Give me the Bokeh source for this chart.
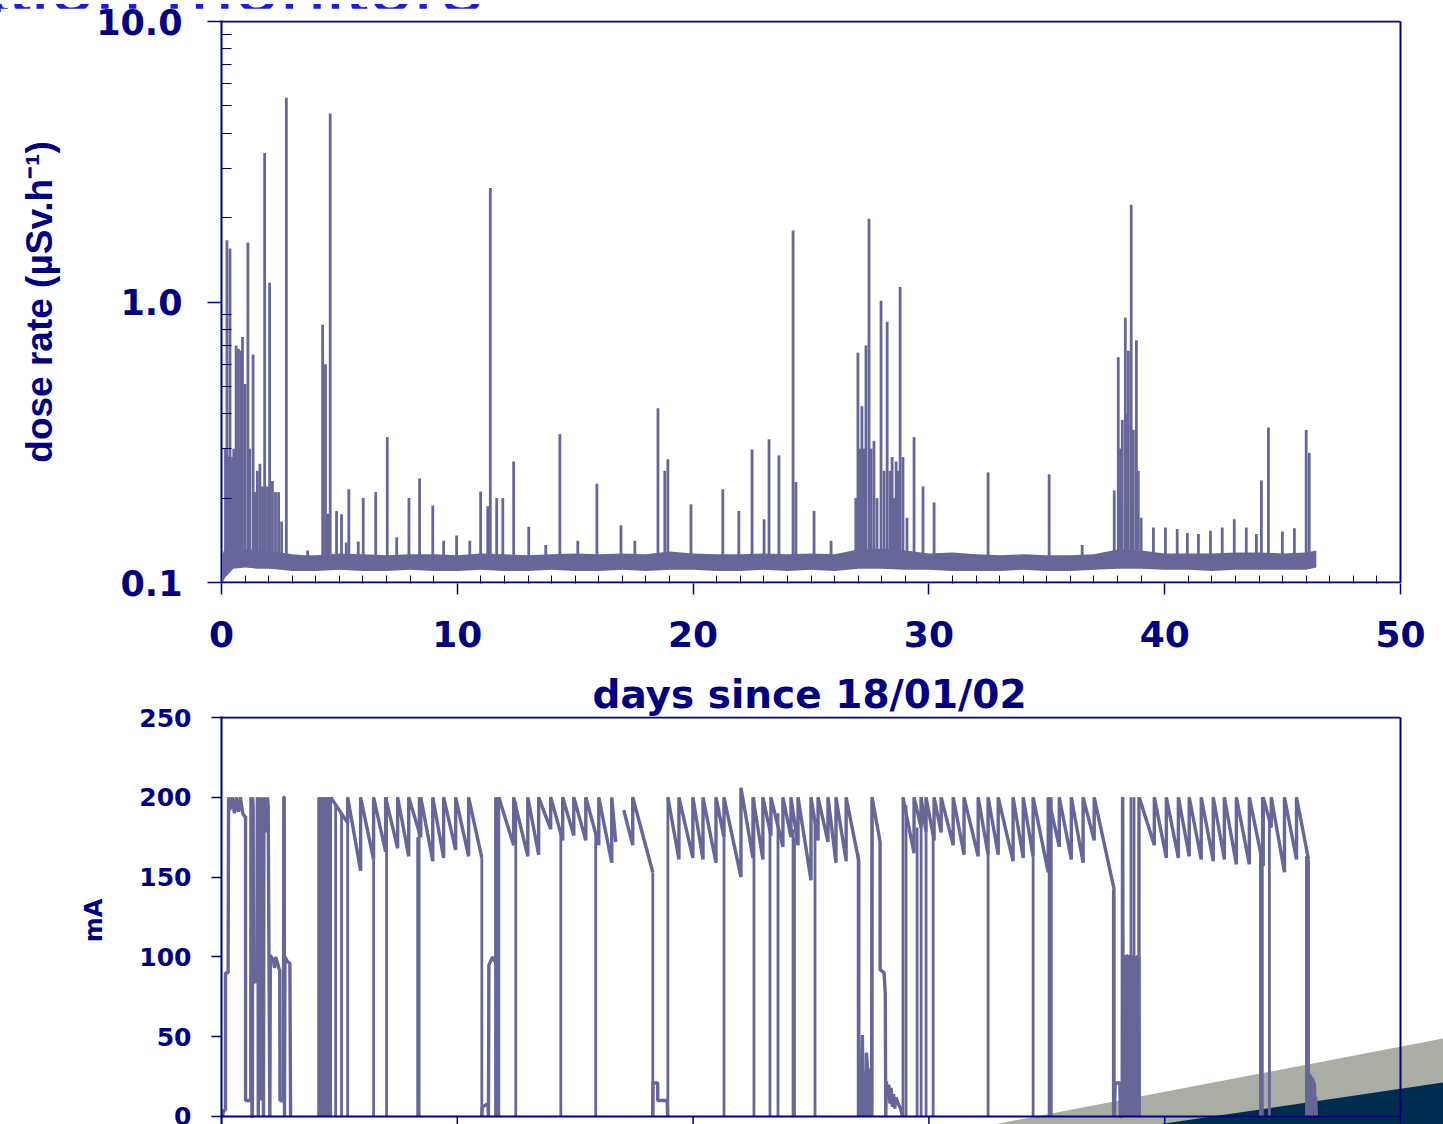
from bokeh.plotting import figure
from bokeh.layouts import column
from bokeh.models import (FixedTicker, PrintfTickFormatter, PolyAnnotation, Range1d, Div)
from bokeh.embed import file_html
from bokeh.resources import INLINE

NAVY = "#000080"
PURPLE = "#666699"

# ---------------- top chart: dose rate (uSv/h) ----------------
band_days = [0.05, 0.15, 0.5, 1, 1.5, 2, 2.5, 3, 3.5, 4, 5, 6, 7, 8, 9, 10, 11, 12, 13,
             14, 15, 16, 17, 18, 19, 20, 21, 22, 23, 24, 25, 26, 27, 28, 29, 30, 31, 32,
             33, 34, 35, 36, 37, 38, 39, 40, 41, 42, 43, 44, 45, 46, 46.43]
band_low = [0.100, 0.104, 0.112, 0.113, 0.112, 0.112, 0.111, 0.110, 0.110, 0.110, 0.111,
            0.110, 0.110, 0.111, 0.110, 0.110, 0.111, 0.110, 0.110, 0.111, 0.110, 0.110,
            0.111, 0.110, 0.111, 0.111, 0.110, 0.110, 0.111, 0.110, 0.111, 0.110, 0.112,
            0.112, 0.111, 0.111, 0.110, 0.110, 0.110, 0.111, 0.110, 0.110, 0.111, 0.112,
            0.112, 0.111, 0.111, 0.110, 0.111, 0.111, 0.111, 0.111, 0.113]
band_high = [0.127, 0.132, 0.132, 0.132, 0.130, 0.129, 0.128, 0.126, 0.125, 0.125, 0.127,
             0.126, 0.125, 0.126, 0.126, 0.125, 0.127, 0.126, 0.125, 0.126, 0.127, 0.126,
             0.127, 0.126, 0.129, 0.127, 0.126, 0.126, 0.127, 0.126, 0.127, 0.126, 0.131,
             0.132, 0.130, 0.127, 0.128, 0.126, 0.125, 0.126, 0.125, 0.125, 0.126, 0.131,
             0.130, 0.127, 0.127, 0.127, 0.128, 0.128, 0.127, 0.128, 0.130]

spike_days = [0.17, 0.23, 0.30, 0.36, 0.42, 0.47, 0.52, 0.62, 0.72, 0.78, 0.83, 0.89, 1.00,
              1.12, 1.20, 1.34, 1.44, 1.52, 1.63, 1.74, 1.83, 1.95, 2.04, 2.16, 2.29, 2.42,
              2.55, 2.75, 3.65, 4.29, 4.41, 4.50, 4.61, 4.88, 5.09, 5.29, 5.40, 5.80, 6.01,
              6.54, 7.03, 7.43, 7.95, 8.40, 8.96, 9.42, 9.97, 10.53, 10.99, 11.29, 11.40,
              11.67, 11.93, 12.39, 13.03, 13.75, 14.35, 15.11, 15.92, 16.94, 17.53, 18.51,
              18.80, 18.93, 19.91, 21.26, 21.94, 22.50, 23.01, 23.22, 23.64, 24.24, 24.36,
              25.13, 25.85, 26.90, 26.99, 27.08, 27.16, 27.25, 27.33, 27.46, 27.55, 27.67,
              27.80, 27.97, 28.10, 28.23, 28.35, 28.44, 28.52, 28.61, 28.69, 28.78, 28.90,
              29.07, 29.37, 29.75, 30.22, 32.51, 35.10, 36.50, 37.86, 38.03, 38.12, 38.20,
              38.33, 38.41, 38.46, 38.58, 38.67, 38.80, 38.88, 39.00, 39.52, 40.03, 40.53,
              40.96, 41.43, 41.94, 42.44, 42.95, 43.46, 43.89, 44.10, 44.40, 44.99, 45.50,
              46.00, 46.13]
spike_vals = [0.30, 1.66, 0.28, 1.55, 0.27, 0.28, 0.30, 0.70, 0.68, 0.30, 0.67, 0.75, 0.51,
              1.63, 0.30, 0.65, 0.21, 0.25, 0.265, 0.22, 3.40, 0.22, 1.17, 0.23, 0.21, 0.21,
              0.165, 5.35, 0.13, 0.83, 0.60, 0.176, 4.70, 0.18, 0.175, 0.139, 0.215, 0.14,
              0.20, 0.21, 0.33, 0.145, 0.20, 0.235, 0.188, 0.141, 0.147, 0.141, 0.211, 0.187,
              2.55, 0.20, 0.20, 0.27, 0.158, 0.136, 0.338, 0.141, 0.225, 0.16, 0.141, 0.418,
              0.25, 0.275, 0.19, 0.215, 0.18, 0.298, 0.168, 0.324, 0.284, 1.80, 0.228,
              0.18, 0.141, 0.20, 0.66, 0.30, 0.425, 0.30, 0.70, 1.98, 0.30, 0.32,
              0.20, 1.01, 0.25, 0.85, 0.25, 0.28, 0.20, 0.27, 0.25, 1.13, 0.28,
              0.17, 0.33, 0.22, 0.193, 0.247, 0.243, 0.136, 0.213, 0.636, 0.30, 0.38,
              0.88, 0.40, 0.67, 2.22, 0.35, 0.73, 0.25, 0.17, 0.157, 0.157, 0.155,
              0.150, 0.149, 0.153, 0.157, 0.168, 0.157, 0.149, 0.231, 0.357, 0.152, 0.156,
              0.35, 0.29]
SPIKE_BASE = 0.118

dose_ticks = [0.1, 1.0, 10.0]
dose_minor = [0.2, 0.3, 0.4, 0.5, 0.6, 0.7, 0.8, 0.9, 2, 3, 4, 5, 6, 7, 8, 9]
day_ticks = [0, 10, 20, 30, 40, 50]
day_minor = [d for d in range(1, 50) if d % 10]

# ---------------- bottom chart: beam current (mA) ----------------
# regular operation: refill days (tooth starts), run end, level at end of each tooth, fill level
run1_starts = [4.63, 5.35, 5.90, 6.45, 6.96, 7.47, 7.94, 8.45, 8.96, 9.42, 9.93, 10.48]
run1_end = 11.04
run1_lows = [184, 154, 161, 166, 168, 163, 175, 160, 162, 167, 163, 162]
run1_tops = [200] * 12

run2_starts = [11.76, 12.39, 12.99, 13.45, 13.96, 14.47, 14.94, 15.45, 16.00, 16.55]
run2_end = 16.72
run2_lows = [170, 163, 164, 180, 173, 176, 173, 170, 159, 172]
run2_tops = [200] * 10

run3_starts = [17.06, 17.44]
run3_end = 18.29
run3_lows = [170, 153]
run3_tops = [192, 200]

run4_starts = [18.93, 19.40, 19.99, 20.42, 20.97, 21.31, 22.03, 22.54, 22.96, 23.30, 23.81,
               24.15, 24.45, 25.00, 25.30, 25.72, 26.06, 26.49]
run4_end = 27.04
run4_lows = [161, 162, 161, 159, 175, 150, 162, 161, 176, 169, 175, 170, 148, 173, 172, 159,
             160, 159]
run4_tops = [200, 200, 200, 200, 200, 200, 206, 200, 200, 200, 200, 200, 200, 200, 200, 200,
             200, 200]

run5_starts = [28.90, 29.37, 29.67, 29.88, 30.22, 30.52, 31.03, 31.49, 32.09, 32.51, 32.94,
               33.57, 34.00, 34.42, 35.06, 35.53, 36.04, 36.54, 37.01]
run5_end = 37.86
run5_lows = [165, 181, 178, 173, 178, 170, 164, 163, 164, 164, 160, 162, 163, 153, 169, 161,
             159, 173, 142]
run5_tops = [200] * 19

run6_starts = [38.92, 39.56, 40.07, 40.58, 41.04, 41.55, 42.06, 42.53, 43.04, 43.59, 44.18,
               44.52, 45.08, 45.59]
run6_end = 46.10
run6_lows = [170, 162, 162, 163, 161, 160, 161, 158, 158, 157, 181, 153, 161, 161]
run6_tops = [200] * 14

# irregular periods (start-up, injections, low-current running)
early_days = [0.04, 0.10, 0.17, 0.17, 0.28, 0.30, 0.35, 0.45, 0.55, 0.62, 0.72, 0.80, 0.90,
              0.98, 1.02, 1.02, 1.24, 1.25, 1.28, 1.29, 1.31, 1.32, 1.34, 1.36, 1.45, 1.50,
              1.52, 1.55, 1.56, 1.58, 1.62, 1.64, 1.66, 1.70, 1.72, 1.76, 1.78, 1.80, 1.86,
              1.88, 1.93, 1.95, 1.98, 2.05, 2.07, 2.20, 2.25, 2.30, 2.40, 2.45, 2.47, 2.48,
              2.63, 2.64, 2.66, 2.67, 2.69, 2.80, 2.90, 2.93]
early_vals = [0, 4, 4, 90, 90, 200, 192, 200, 190, 200, 191, 200, 190,
              188, 188, 10, 10, 200, 198, 0, 0, 200, 195, 85, 84, 88,
              200, 198, 0, 200, 190, 10, 200, 180, 200, 185, 0, 200, 190,
              200, 178, 200, 195, 0, 101, 98, 93, 100, 95, 92, 92, 10,
              10, 200, 200, 0, 100, 97, 96, 0]

c11_days = [11.04, 11.06, 11.30, 11.32, 11.34, 11.50, 11.60, 11.70, 11.72]
c11_vals = [0, 6, 8, 0, 95, 100, 97, 99, 0]

c18_days = [18.29, 18.30, 18.50, 18.50, 18.90, 18.92]
c18_vals = [0, 21, 21, 10, 10, 0]

c27_days = [27.04, 27.05, 27.10, 27.12, 27.14, 27.18, 27.20, 27.22, 27.30, 27.32, 27.35,
            27.42, 27.45, 27.48, 27.55, 27.57, 27.59, 27.93, 27.93, 28.10, 28.15, 28.17,
            28.20, 28.25, 28.30, 28.35, 28.40, 28.45, 28.50, 28.55, 28.60, 28.70, 28.80,
            28.88]
c27_vals = [0, 25, 18, 0, 30, 51, 0, 28, 20, 0, 40,
            25, 0, 22, 30, 0, 200, 172, 92, 90, 77, 0,
            22, 12, 20, 8, 18, 6, 14, 5, 12, 8, 5,
            0]

c38_days = [37.86, 37.90, 38.10, 38.12, 38.20, 38.22, 38.24, 38.28, 38.35, 38.37, 38.45,
            38.47, 38.50, 38.60, 38.62, 38.64, 38.75, 38.77, 38.80, 38.90, 38.92]
c38_vals = [0, 21, 21, 0, 0, 200, 0, 100, 0, 101, 100,
            0, 100, 101, 0, 100, 99, 0, 100, 100, 0]

c46_days = [46.10, 46.12, 46.20, 46.22, 46.25, 46.35, 46.38, 46.40, 46.43]
c46_vals = [0, 26, 25, 0, 24, 20, 0, 12, 0]

# brief beam losses / refills from zero (vertical excursions between 0 and the level reached)
drop_days = [4.12, 4.17, 4.22, 4.27, 4.32, 4.37, 4.42, 4.47, 4.52, 4.57, 4.63, 4.84, 5.09,
             5.35, 6.45, 7.00, 8.32, 8.38, 11.04, 11.62, 11.70, 11.74, 11.76, 12.48, 14.39,
             15.87, 18.29, 18.93, 21.31, 22.58, 23.26, 23.60, 24.24, 24.30, 25.17, 27.00,
             27.04, 27.59, 28.90, 29.03, 29.50, 29.67, 29.88, 30.18, 32.51, 34.42, 35.10,
             35.19, 37.82, 37.86, 38.20, 38.57, 38.70, 38.90, 38.92, 44.06, 44.14, 44.44,
             46.01, 46.10]
drop_tops = [200, 200, 200, 200, 200, 200, 200, 200, 200, 200, 200, 196, 190,
             186, 161, 200, 175, 200, 162, 200, 200, 200, 200, 197, 180,
             178, 153, 200, 175, 200, 180, 190, 180, 175, 185, 165,
             159, 200, 200, 195, 181, 200, 178, 175, 164, 163, 190,
             200, 142, 142, 200, 200, 200, 200, 200, 165, 200, 190,
             163, 161]

mA_ticks = [0, 50, 100, 150, 200, 250]
DAY_MAX = 50
MA_MAX = 250
DOSE_MIN = 0.1
DOSE_MAX = 10.0


def style_axis(ax):
    ax.axis_line_color = NAVY
    ax.axis_line_width = 2
    ax.major_tick_line_color = NAVY
    ax.major_tick_line_width = 1.5
    ax.minor_tick_line_color = NAVY
    ax.major_label_text_color = NAVY
    ax.major_label_text_font = "DejaVu Sans"
    ax.major_label_text_font_style = "bold"


W = 1443
# plotting areas run on to the page's right edge (for the slide decoration); the charts'
# own boxes are drawn at 0..50 days
x_end = DAY_MAX * (W - 221) / (1400 - 221)

# ---------------- slide title (only its lower edge is on the page) ----------------
title_div = Div(width=W, height=8, margin=(0, 0, 0, 0), text=(
    '<div style="position:relative;width:1443px;height:8px;overflow:hidden;">'
    '<span style="position:absolute;left:-209px;bottom:-13px;'
    "font-family:'Liberation Sans',Arial,sans-serif;font-size:83px;line-height:83px;"
    'color:#1a1aeb;white-space:nowrap;">Radiation monitors</span></div>'))

# ---------------- top figure ----------------
dec = 10 ** (1 / 280.5)
top = figure(width=W, height=650, x_range=Range1d(0, x_end),
             y_range=Range1d(DOSE_MIN / dec, DOSE_MAX * dec),
             y_axis_type="log", output_backend="svg", toolbar_location=None,
             min_border_left=221, min_border_right=0, min_border_top=12,
             min_border_bottom=75)
top.xgrid.visible = False
top.ygrid.visible = False
top.outline_line_color = None

top.varea(x=band_days, y1=band_low, y2=band_high, fill_color=PURPLE, fill_alpha=1)
top.segment(x0=spike_days, y0=[SPIKE_BASE] * len(spike_days), x1=spike_days, y1=spike_vals,
            line_color=PURPLE, line_width=2.8)
# chart box: x axis line, top edge, right edge
top.segment(x0=[0, 0, DAY_MAX], y0=[DOSE_MIN, DOSE_MAX, DOSE_MIN],
            x1=[DAY_MAX, DAY_MAX, DAY_MAX], y1=[DOSE_MIN, DOSE_MAX, DOSE_MAX],
            line_color=NAVY, line_width=2)

xa = top.xaxis[0]
style_axis(xa)
xa.axis_line_color = None
xa.ticker = FixedTicker(ticks=day_ticks, minor_ticks=day_minor)
xa.major_tick_out = 11
xa.major_tick_in = 0
xa.minor_tick_in = 8
xa.minor_tick_out = 0
xa.major_label_text_font_size = "36px"
xa.major_label_standoff = 26

ya = top.yaxis[0]
style_axis(ya)
ya.ticker = FixedTicker(ticks=dose_ticks, minor_ticks=dose_minor)
ya.formatter = PrintfTickFormatter(format="%.1f")
ya.major_tick_out = 14
ya.major_tick_in = 0
ya.minor_tick_in = 10
ya.minor_tick_out = 0
ya.major_label_text_font_size = "35px"
ya.major_label_standoff = 25
ya.axis_label = "dose rate (\u00b5Sv.h\u207b\u00b9)"
ya.axis_label_text_font = "Liberation Sans"
ya.axis_label_text_font_style = "bold"
ya.axis_label_text_font_size = "37px"
ya.axis_label_text_color = NAVY
ya.axis_label_standoff = 33

# ---------------- bottom figure ----------------
px_per_mA = (1116 - 717) / MA_MAX
y_start = -(1124 - 1116) / px_per_mA
y_end = MA_MAX + 1 / px_per_mA
bot = figure(width=W, height=466, x_range=Range1d(0, x_end), y_range=Range1d(y_start, y_end),
             output_backend="svg", toolbar_location=None, x_axis_location=None,
             title="days since 18/01/02",
             min_border_left=221, min_border_right=0, min_border_top=58,
             min_border_bottom=0)
bot.xgrid.visible = False
bot.ygrid.visible = False
bot.outline_line_color = None
bot.title.align = "left"
bot.title.offset = 371
bot.title.text_font = "DejaVu Sans"
bot.title.text_font_style = "bold"
bot.title.text_font_size = "39px"
bot.title.text_color = NAVY
bot.title.standoff = 0

# slide decoration (canvas pixels), beneath the data
bot.add_layout(PolyAnnotation(xs=[993, 1443, 1443], ys=[466, 380, 466], xs_units="canvas",
                              ys_units="canvas", fill_color="#a9ada3", fill_alpha=1,
                              line_alpha=0, level="underlay"))
bot.add_layout(PolyAnnotation(xs=[1157, 1443, 1443], ys=[466, 424, 466], xs_units="canvas",
                              ys_units="canvas", fill_color="#002c50", fill_alpha=1,
                              line_alpha=0, level="underlay"))

runs = [(run1_starts, run1_end, run1_lows, run1_tops),
        (run2_starts, run2_end, run2_lows, run2_tops),
        (run3_starts, run3_end, run3_lows, run3_tops),
        (run4_starts, run4_end, run4_lows, run4_tops),
        (run5_starts, run5_end, run5_lows, run5_tops),
        (run6_starts, run6_end, run6_lows, run6_tops)]
xs_list, ys_list = [], []
for starts, end, lows, tops in runs:
    ends = starts[1:] + [end]
    xs, ys = [], []
    for s, e, lo, tp in zip(starts, ends, lows, tops):
        xs += [s, e]
        ys += [tp, lo]
    xs_list.append(xs)
    ys_list.append(ys)
for dd, vv in [(early_days, early_vals), (c11_days, c11_vals), (c18_days, c18_vals),
               (c27_days, c27_vals), (c38_days, c38_vals), (c46_days, c46_vals)]:
    xs_list.append(dd)
    ys_list.append(vv)

bot.multi_line(xs_list, ys_list, line_color=PURPLE, line_width=3.4)
bot.segment(x0=drop_days, y0=[0] * len(drop_days), x1=drop_days, y1=drop_tops,
            line_color=PURPLE, line_width=2.8)

# chart box: x axis line at 0 mA, top and right edges, and day ticks below the axis
bot.segment(x0=[0, 0, DAY_MAX], y0=[0, MA_MAX, 0], x1=[DAY_MAX, DAY_MAX, DAY_MAX],
            y1=[0, MA_MAX, MA_MAX], line_color=NAVY, line_width=2)
bot.segment(x0=day_ticks, y0=[0] * len(day_ticks), x1=day_ticks,
            y1=[y_start] * len(day_ticks), line_color=NAVY, line_width=1.5)

yb = bot.yaxis[0]
style_axis(yb)
yb.ticker = FixedTicker(ticks=mA_ticks, minor_ticks=[])
yb.major_tick_out = 10
yb.major_tick_in = 0
yb.minor_tick_in = 0
yb.minor_tick_out = 0
yb.major_label_text_font_size = "25px"
yb.major_label_standoff = 20
yb.axis_label = "mA"
yb.axis_label_text_font = "DejaVu Sans"
yb.axis_label_text_font_style = "bold"
yb.axis_label_text_font_size = "24px"
yb.axis_label_text_color = NAVY
yb.axis_label_standoff = 28

layout = column(title_div, top, bot, spacing=0)
open("out.html", "w").write(file_html(layout, INLINE))
